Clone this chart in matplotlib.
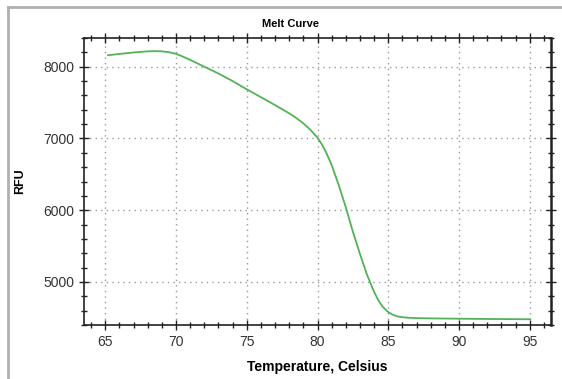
import numpy as np
from matplotlib import pyplot as plt
from matplotlib.lines import Line2D
from matplotlib.ticker import MultipleLocator

# melt curve
temp = [65.2, 66, 67, 67.5, 68, 68.5, 69, 69.5, 70, 70.5, 71, 72, 73, 74,
        75, 76, 77, 78, 78.5, 79, 79.5, 80, 80.3, 80.6, 81, 81.5, 82, 82.5,
        83, 83.5, 84, 84.3, 84.6, 85, 85.3, 85.6, 86, 86.5, 87, 88, 90, 92, 95]
rfu = [8160, 8178, 8198, 8207, 8214, 8217, 8214, 8202, 8180, 8140, 8095,
       8000, 7905, 7800, 7685, 7575, 7465, 7350, 7285, 7210, 7120, 7010,
       6920, 6810, 6630, 6350, 6040, 5700, 5390, 5100, 4860, 4745, 4655,
       4580, 4545, 4522, 4508, 4500, 4496, 4492, 4488, 4484, 4480]

plt.rcParams['font.family'] = ['Liberation Sans', 'DejaVu Sans']

fig = plt.figure(figsize=(5.62, 3.79), dpi=100)
# grey frame of the screenshot (left and top edges only)
fig.add_artist(Line2D([8/562, 8/562], [0, 1 - 7/379], color='#b0b0b0', lw=2, transform=fig.transFigure))
fig.add_artist(Line2D([8/562, 1], [1 - 7/379, 1 - 7/379], color='#b0b0b0', lw=2, transform=fig.transFigure))

ax = fig.add_axes([84/562, 54/379, 467/562, 287/379])
ax.plot(temp, rfu, color='#52b356', lw=1.3)

ax.set_xlim(63.5, 96.5)
ax.set_ylim(4400, 8400)
ax.xaxis.set_major_locator(MultipleLocator(5))
ax.xaxis.set_minor_locator(MultipleLocator(1))
ax.yaxis.set_major_locator(MultipleLocator(1000))
ax.yaxis.set_minor_locator(MultipleLocator(200))

ax.grid(True, which='major', color='#999999', ls=(0, (1, 3)), lw=1)
ax.tick_params(which='both', direction='inout', top=True, right=True, color='#222222')
ax.tick_params(which='major', length=7, width=1, labelsize=10, labelcolor='#333333')
ax.tick_params(which='minor', length=4, width=1)
for s in ax.spines.values():
    s.set_color('#222222')
    s.set_linewidth(1.2)
ax.spines['right'].set_linewidth(1.8)

fig.text(290/562, 1 - 24/379, 'Melt Curve', fontsize=8, fontweight='bold', ha='center', va='center')
ax.set_xlabel('Temperature, Celsius', fontsize=10, fontweight='bold', labelpad=8)
ax.set_ylabel('RFU', fontsize=9, fontweight='bold', labelpad=12)

fig.savefig('out.png', dpi=100)
